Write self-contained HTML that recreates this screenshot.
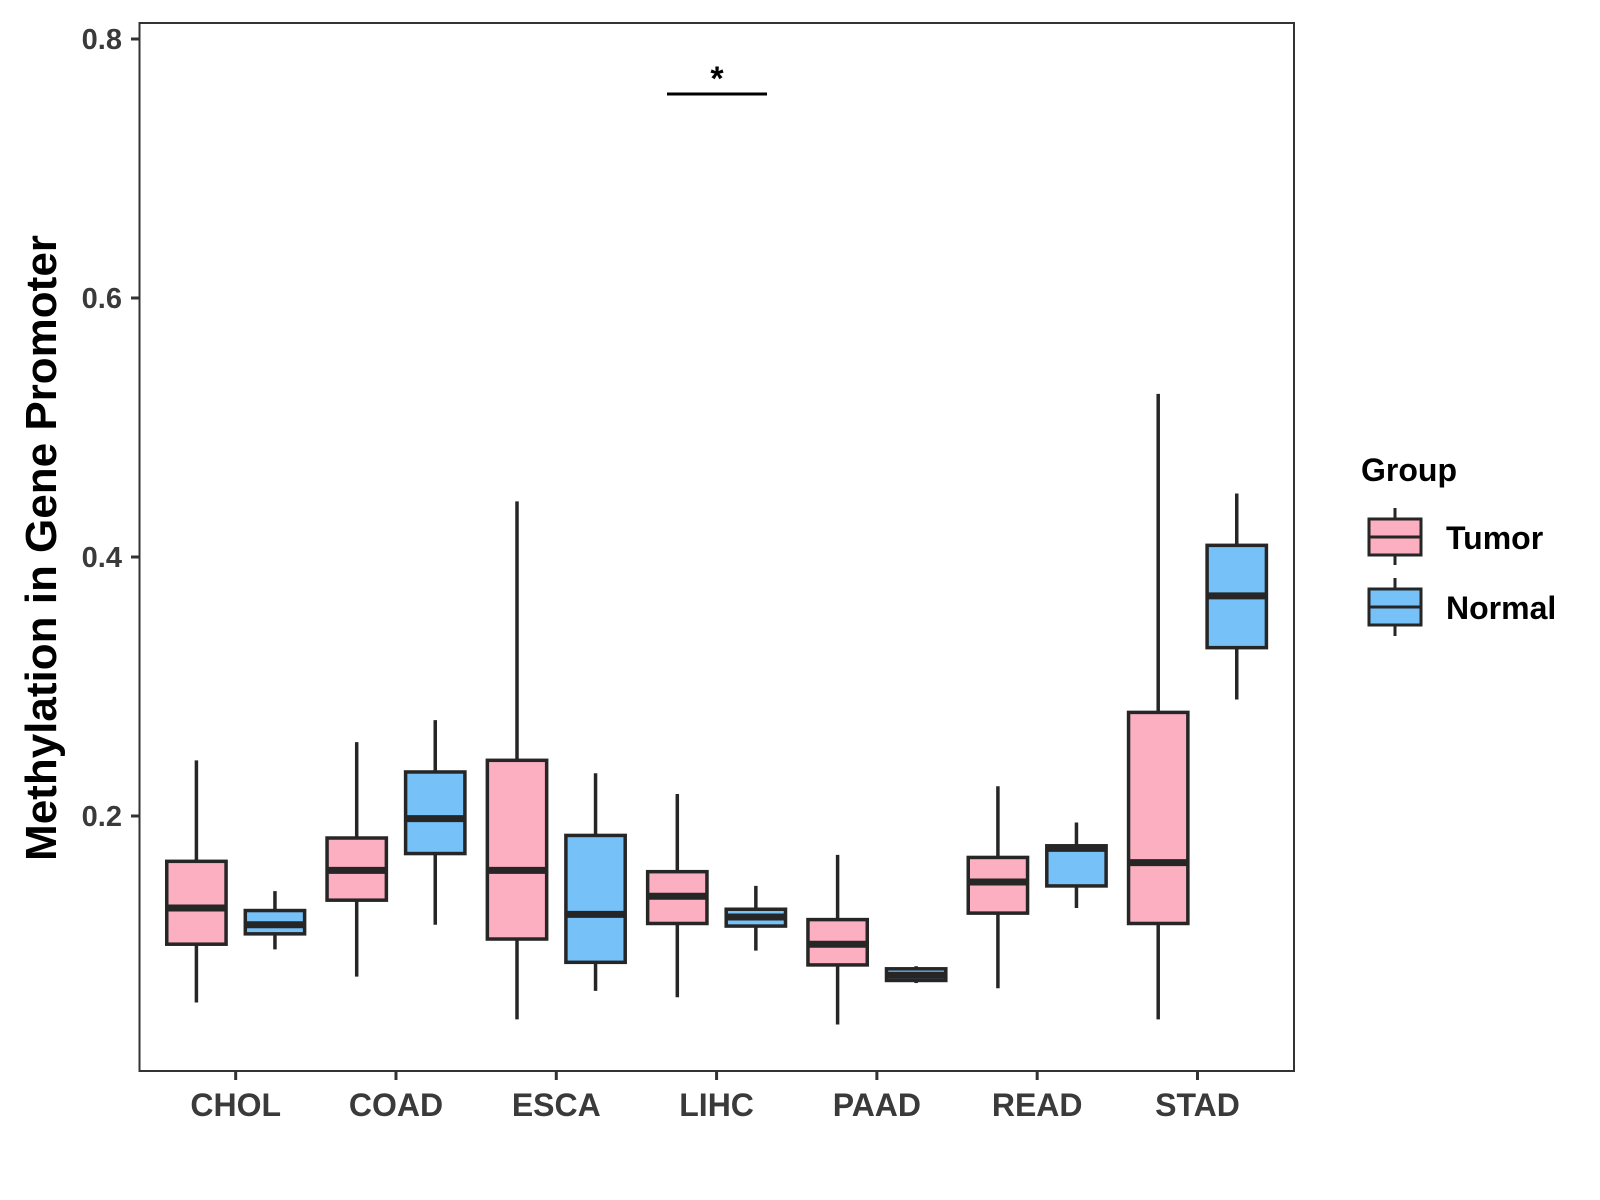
<!DOCTYPE html>
<html><head><meta charset="utf-8"><style>
html,body{margin:0;padding:0;background:#fff}
svg{display:block;font-family:"Liberation Sans",Arial,sans-serif;font-weight:bold}
</style></head><body>
<svg id="chart" width="1600" height="1200" viewBox="0 0 1600 1200" xmlns="http://www.w3.org/2000/svg">
<rect x="139.5" y="23" width="1154.5" height="1048" fill="none" stroke="#333" stroke-width="2"/>
<text transform="translate(56,548) rotate(-90)" text-anchor="middle" font-size="44" fill="#000">Methylation in Gene Promoter</text>
<g id="ticks"></g>
<g id="boxes"></g>
<g>
<line x1="667" y1="94" x2="767" y2="94" stroke="#000" stroke-width="3"/>
<text x="717" y="90" text-anchor="middle" font-size="34" fill="#000">*</text>
</g>
<g>
<text x="1361" y="481" font-size="32" fill="#000">Group</text>
<g>
<line x1="1395" y1="508" x2="1395" y2="565" stroke="#262626" stroke-width="3"/>
<rect x="1369" y="519" width="52" height="36" fill="#FBAFC0" stroke="#262626" stroke-width="3"/>
<line x1="1369" y1="537" x2="1421" y2="537" stroke="#262626" stroke-width="3"/>
<text x="1446" y="549" font-size="32" fill="#000">Tumor</text>
</g>
<g>
<line x1="1395" y1="578" x2="1395" y2="636" stroke="#262626" stroke-width="3"/>
<rect x="1369" y="589" width="52" height="36" fill="#76C1F8" stroke="#262626" stroke-width="3"/>
<line x1="1369" y1="607" x2="1421" y2="607" stroke="#262626" stroke-width="3"/>
<text x="1446" y="619" font-size="32" fill="#000">Normal</text>
</g>
</g>
</svg>
<script>
const categories = ["CHOL","COAD","ESCA","LIHC","PAAD","READ","STAD"];
const groups = ["Tumor","Normal"];
const yTicks = [0.2,0.4,0.6,0.8];
const tumorLow = [0.056,0.076,0.043,0.060,0.039,0.067,0.043];
const tumorQ1 = [0.101,0.135,0.105,0.117,0.085,0.125,0.117];
const tumorMed = [0.129,0.158,0.158,0.138,0.101,0.149,0.164];
const tumorQ3 = [0.165,0.183,0.243,0.157,0.120,0.168,0.280];
const tumorHigh = [0.243,0.257,0.443,0.217,0.170,0.223,0.526];
const normalLow = [0.097,0.116,0.065,0.096,0.071,0.129,0.290];
const normalQ1 = [0.109,0.171,0.087,0.115,0.073,0.146,0.330];
const normalMed = [0.116,0.198,0.124,0.122,0.077,0.175,0.370];
const normalQ3 = [0.127,0.234,0.185,0.128,0.082,0.177,0.409];
const normalHigh = [0.142,0.274,0.233,0.146,0.084,0.195,0.449];

const NS="http://www.w3.org/2000/svg";
const left=139.5, unit=160.3;
function xScale(i){return left+(i+0.6)*unit;}
function yScale(v){return 39+(0.8-v)*1295;}
function mk(tag,attrs,parent){const e=document.createElementNS(NS,tag);for(const k in attrs)e.setAttribute(k,attrs[k]);parent.appendChild(e);return e;}
const tg=document.getElementById('ticks');
yTicks.forEach(t=>{
  const y=yScale(t);
  const l=mk('line',{x1:131,x2:139.5,y1:y,y2:y,stroke:'#333','stroke-width':3},tg);
  
  
  const tx=mk('text',{x:122,y:y+10,'text-anchor':'end','font-size':29,fill:'#3a3a3a'},tg);
  tx.textContent=t.toFixed(1);
  
  
});
categories.forEach((c,i)=>{
  const x=xScale(i);
  const l=mk('line',{x1:x,x2:x,y1:1071,y2:1080,stroke:'#333','stroke-width':3},tg);
  
  
  const tx=mk('text',{x:x,y:1116,'text-anchor':'middle','font-size':32,fill:'#3a3a3a'},tg);
  tx.textContent=c;
  
  
});
const bg=document.getElementById('boxes');
const series=[
  {name:'tumor',off:-0.245,fill:'#FBAFC0',low:tumorLow,q1:tumorQ1,med:tumorMed,q3:tumorQ3,high:tumorHigh},
  {name:'normal',off:0.245,fill:'#76C1F8',low:normalLow,q1:normalQ1,med:normalMed,q3:normalQ3,high:normalHigh}
];
const bw=0.37*unit;
series.forEach(s=>{
  categories.forEach((c,i)=>{
    const cx=xScale(i)+s.off*unit;
    const g=mk('g',{},bg);
    
    
    mk('line',{x1:cx,x2:cx,y1:yScale(s.high[i]),y2:yScale(s.low[i]),stroke:'#262626','stroke-width':3.5},g);
    mk('rect',{x:cx-bw/2,y:yScale(s.q3[i]),width:bw,height:yScale(s.q1[i])-yScale(s.q3[i]),fill:s.fill,stroke:'#262626','stroke-width':3.5},g);
    mk('line',{x1:cx-bw/2,x2:cx+bw/2,y1:yScale(s.med[i]),y2:yScale(s.med[i]),stroke:'#262626','stroke-width':7},g);
  });
});
</script>
</body></html>
